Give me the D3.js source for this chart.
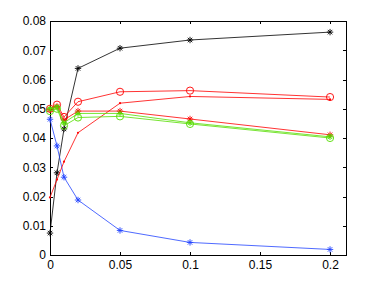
<!DOCTYPE html>
<html>
<head>
<meta charset="utf-8">
<script src="https://cdn.jsdelivr.net/npm/d3@7"></script>
<style>
body { margin: 0; background: #fff; }
svg { font-family: "Liberation Sans", Arial, sans-serif; }
</style>
</head>
<body>
<div id="chart"></div>
<script>
// x positions shared by every series
var xvals = [0, 0.005, 0.01, 0.02, 0.05, 0.1, 0.2];

var blackStar = [0.0075, 0.0281, 0.0431, 0.0638, 0.0707, 0.0735, 0.0762];
var blueStar  = [0.0464, 0.0373, 0.0266, 0.0188, 0.0084, 0.0043, 0.0019];
var redDot    = [0.0197, 0.0258, 0.0319, 0.0418, 0.0519, 0.0542, 0.0532];
var redCircle = [0.0500, 0.0514, 0.0472, 0.0524, 0.0558, 0.0562, 0.0540];
var redStar   = [0.0497, 0.0508, 0.0462, 0.0492, 0.0492, 0.0465, 0.0411];
var greenStar = [0.0500, 0.0505, 0.0452, 0.0484, 0.0484, 0.0452, 0.0404];
var greenCircle = [0.0492, 0.0500, 0.0442, 0.0470, 0.0474, 0.0448, 0.0400];

var xticks = [0, 0.05, 0.1, 0.15, 0.2];
var xtickLabels = ["0", "0.05", "0.1", "0.15", "0.2"];
var yticks = [0, 0.01, 0.02, 0.03, 0.04, 0.05, 0.06, 0.07, 0.08];
var ytickLabels = ["0", "0.01", "0.02", "0.03", "0.04", "0.05", "0.06", "0.07", "0.08"];

var series = [
    {values: blackStar, color: "#000000", marker: "star"},
    {values: blueStar, color: "#2244ff", marker: "star"},
    {values: redDot, color: "#ff0000", marker: "dot"},
    {values: redCircle, color: "#ff0000", marker: "circle"},
    {values: redStar, color: "#ff0000", marker: "star"},
    {values: greenCircle, color: "#55dd00", marker: "circle"},
    {values: greenStar, color: "#55dd00", marker: "star"}
];

var W = 382, H = 287;
var plotL = 50, plotR = 346, plotT = 21, plotB = 255;

var svg = d3.select("#chart").append("svg").attr("width", W).attr("height", H);

var x = d3.scaleLinear().domain([0, 0.2114]).range([plotL, plotR]);
var y = d3.scaleLinear().domain([0, 0.08]).range([plotB, plotT]);

// axes, ticks pointing inwards like matlab
var xAxis = d3.axisBottom(x).tickValues(xticks).tickSize(-3).tickPadding(5)
    .tickFormat(function(d, i){ return xtickLabels[i]; });
var yAxis = d3.axisLeft(y).tickValues(yticks).tickSize(-3).tickPadding(4)
    .tickFormat(function(d, i){ return ytickLabels[i]; });
var xTop = d3.axisTop(x).tickValues(xticks).tickSize(-3).tickFormat("");
var yRight = d3.axisRight(y).tickValues(yticks).tickSize(-3).tickFormat("");

function styleAxis(g){
    g.attr("font-size", null).attr("font-family", null);
    g.select(".domain").remove();
    g.selectAll("line").attr("stroke", "#000").attr("shape-rendering", "crispEdges");
    g.selectAll("text").attr("fill", "#000").style("font-size", "12px")
        .style("font-family", "'Liberation Sans', Arial, sans-serif");
}

svg.append("g").attr("transform", "translate(0," + plotB + ")").call(xAxis).call(styleAxis);
svg.append("g").attr("transform", "translate(" + plotL + ",0)").call(yAxis).call(styleAxis);
svg.append("g").attr("transform", "translate(0," + plotT + ")").call(xTop).call(styleAxis);
svg.append("g").attr("transform", "translate(" + plotR + ",0)").call(yRight).call(styleAxis);

svg.append("rect").attr("x", plotL + 0.5).attr("y", plotT + 0.5)
    .attr("width", plotR - plotL).attr("height", plotB - plotT)
    .attr("fill", "none").attr("stroke", "#000").attr("stroke-width", 1);

var line = d3.line()
    .x(function(d, i){ return x(xvals[i]); })
    .y(function(d){ return y(d); });

function starPath(r){
    var a = r * 0.7;
    return "M" + (-r) + ",0L" + r + ",0M0," + (-r) + "L0," + r +
        "M" + (-a) + "," + (-a) + "L" + a + "," + a +
        "M" + (-a) + "," + a + "L" + a + "," + (-a);
}

series.forEach(function(s){
    var g = svg.append("g");
    g.append("path").datum(s.values).attr("d", line)
        .attr("fill", "none").attr("stroke", s.color).attr("stroke-width", 0.8);
    var pts = g.selectAll(".m").data(s.values).enter().append("g")
        .attr("transform", function(d, i){ return "translate(" + x(xvals[i]) + "," + y(d) + ")"; });
    if (s.marker == "star"){
        pts.append("path").attr("d", starPath(3.2)).attr("stroke", s.color)
            .attr("stroke-width", 0.9).attr("fill", "none");
    }
    else if (s.marker == "circle"){
        pts.append("circle").attr("r", 3.6).attr("stroke", s.color)
            .attr("stroke-width", 0.9).attr("fill", "none");
    }
    else {
        pts.append("circle").attr("r", 1.1).attr("fill", s.color);
    }
});
</script>
</body>
</html>
